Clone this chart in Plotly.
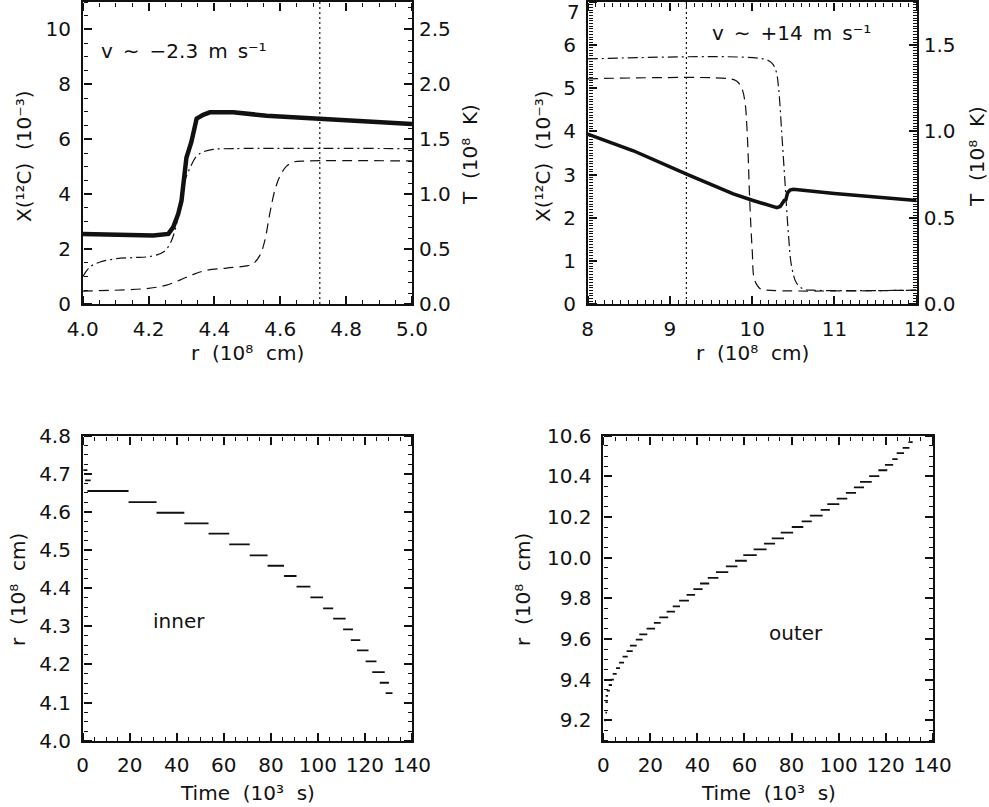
import plotly.graph_objects as go

W, H = 989, 807

# ---------------- top-left panel (inner boundary) ----------------
tl_r_solid = [4.0, 4.154, 4.214, 4.26, 4.275, 4.29, 4.30, 4.315, 4.33, 4.346,
              4.366, 4.386, 4.457, 4.558, 4.72, 4.861, 5.0]
tl_T_solid = [0.638, 0.633, 0.623, 0.638, 0.700, 0.820, 0.940, 1.333, 1.475, 1.688,
              1.723, 1.745, 1.745, 1.715, 1.688, 1.662, 1.638]
tl_r_dashdot = [4.0, 4.022, 4.053, 4.103, 4.154, 4.204, 4.245, 4.265, 4.28, 4.295,
                4.31, 4.326, 4.346, 4.366, 4.396, 4.457, 5.0]
tl_x_dashdot = [0.99, 1.35, 1.53, 1.65, 1.69, 1.73, 1.89, 2.19, 2.67, 3.52,
                4.48, 4.96, 5.39, 5.54, 5.63, 5.66, 5.66]
tl_r_dash = [4.0, 4.2, 4.255, 4.295, 4.336, 4.376, 4.437, 4.497, 4.518, 4.538,
             4.553, 4.568, 4.583, 4.599, 4.619, 4.639, 4.68, 5.0]
tl_x_dash = [0.47, 0.57, 0.69, 0.87, 1.08, 1.23, 1.31, 1.39, 1.47, 1.77,
             2.31, 3.28, 4.12, 4.66, 5.02, 5.17, 5.21, 5.21]
tl_vline_r = 4.72
tl_label = "v\u2002∼\u2002−2.3\u2002m\u2002s⁻¹"

# ---------------- top-right panel (outer boundary) ----------------
tr_r_solid = [8.0, 8.555, 9.216, 9.77, 10.01, 10.18, 10.30, 10.34, 10.37, 10.39,
              10.41, 10.43, 10.46, 10.5, 11.0, 12.0]
tr_T_solid = [0.985, 0.888, 0.750, 0.638, 0.600, 0.578, 0.558, 0.565, 0.590, 0.600,
              0.605, 0.645, 0.660, 0.665, 0.640, 0.600]
tr_r_dashdot = [8.0, 10.136, 10.237, 10.29, 10.32, 10.36, 10.40, 10.44, 10.48,
                10.54, 10.62, 10.74, 12.0]
tr_x_dashdot = [5.68, 5.68, 5.59, 5.40, 5.02, 3.94, 2.78, 1.63, 0.86,
                0.48, 0.35, 0.32, 0.32]
tr_r_dash = [8.0, 9.73, 9.81, 9.87, 9.91, 9.94, 9.97, 10.0, 10.03, 10.1, 10.18, 12.0]
tr_x_dash = [5.22, 5.22, 5.17, 5.02, 4.71, 3.94, 2.40, 1.25, 0.55, 0.35, 0.32, 0.32]
tr_vline_r = 9.2
tr_label = "v\u2002∼\u2002+14\u2002m\u2002s⁻¹"
tr_top_tick = "7"

# ---------------- bottom-left: inner boundary position vs time ----------------
inner_t_start = [0.3, 1.0, 2.0, 19.5, 31.4, 43.2, 53.5, 62.3, 71.0, 78.6, 85.6,
                 90.9, 96.8, 102.2, 106.5, 110.7, 114.0, 116.6, 120.3, 123.1, 126.3, 128.8]
inner_t_end = [2.0, 3.4, 19.5, 31.4, 43.2, 53.5, 62.3, 71.0, 78.6, 85.6, 90.9,
               96.8, 102.2, 106.5, 111.8, 114.9, 118.0, 121.5, 124.9, 128.4, 130.2, 131.7]
inner_r = [4.710, 4.683, 4.655, 4.626, 4.598, 4.570, 4.543, 4.515, 4.486, 4.459, 4.432,
           4.404, 4.376, 4.347, 4.320, 4.292, 4.264, 4.237, 4.208, 4.180, 4.152, 4.125]

# ---------------- bottom-right: outer boundary position vs time ----------------
outer_t_start = [0.5, 0.9, 0.9, 1.0, 1.4, 2.3, 3.1, 4.0, 5.4, 6.7, 8.2, 9.9, 11.3, 13.8,
                 15.3, 18.4, 21.5, 23.8, 26.9, 29.5, 32.2, 35.4, 38.3, 41.1, 44.4, 47.9,
                 52.1, 56.0, 59.5, 63.9, 68.3, 71.6, 75.4, 80.1, 84.3, 87.8, 92.4, 95.2,
                 99.2, 103.1, 106.5, 109.1, 113.0, 116.9, 119.7, 122.8, 124.7, 127.2, 129.7]
outer_t_end = [1.1, 1.6, 1.9, 2.0, 2.8, 3.7, 4.5, 5.7, 7.1, 8.8, 10.4, 12.5, 14.2, 16.7,
               18.7, 22.0, 24.4, 27.6, 30.5, 32.6, 36.4, 39.0, 42.2, 45.0, 48.9, 53.1,
               57.0, 61.0, 65.2, 69.4, 73.0, 76.8, 80.7, 85.0, 88.6, 93.2, 96.3, 100.3,
               103.7, 107.4, 110.8, 114.1, 117.3, 120.7, 123.2, 125.1, 127.8, 130.1, 131.5]
outer_r = [9.200, 9.238, 9.290, 9.320, 9.346, 9.374, 9.400, 9.429, 9.457, 9.484, 9.513,
           9.541, 9.568, 9.597, 9.623, 9.651, 9.679, 9.707, 9.735, 9.761, 9.789, 9.817,
           9.845, 9.873, 9.901, 9.929, 9.957, 9.985, 10.013, 10.041, 10.069, 10.095,
           10.123, 10.151, 10.179, 10.207, 10.235, 10.263, 10.291, 10.319, 10.346, 10.373,
           10.401, 10.430, 10.457, 10.485, 10.514, 10.540, 10.568]

INK = "#111111"
FONT = "DejaVu Sans"
FS = 20


def segs(t0, t1, r):
    xs, ys = [], []
    for a, b, v in zip(t0, t1, r):
        xs += [a, b, None]
        ys += [v, v, None]
    return xs, ys


def px_x(p):
    return min(1.0, max(0.0, p / W))


def px_y(p):
    return min(1.0, max(0.0, 1 - p / H))


fig = go.Figure()

# TL traces
fig.add_trace(go.Scatter(x=tl_r_dash, y=tl_x_dash, xaxis="x", yaxis="y", mode="lines",
                         line=dict(color=INK, width=1.2, dash="10px,6px"), line_shape="spline"))
fig.add_trace(go.Scatter(x=tl_r_dashdot, y=tl_x_dashdot, xaxis="x", yaxis="y", mode="lines",
                         line=dict(color=INK, width=1.2, dash="10px,4px,2px,4px"), line_shape="spline"))
fig.add_trace(go.Scatter(x=tl_r_solid, y=tl_T_solid, xaxis="x", yaxis="y2", mode="lines",
                         line=dict(color=INK, width=4.5)))
fig.add_trace(go.Scatter(x=[tl_vline_r, tl_vline_r], y=[0, 11], xaxis="x", yaxis="y", mode="lines",
                         line=dict(color=INK, width=1.2, dash="2px,3px")))

# TR traces
fig.add_trace(go.Scatter(x=tr_r_dash, y=tr_x_dash, xaxis="x2", yaxis="y3", mode="lines",
                         line=dict(color=INK, width=1.2, dash="10px,6px"), line_shape="spline"))
fig.add_trace(go.Scatter(x=tr_r_dashdot, y=tr_x_dashdot, xaxis="x2", yaxis="y3", mode="lines",
                         line=dict(color=INK, width=1.2, dash="10px,4px,2px,4px"), line_shape="spline"))
fig.add_trace(go.Scatter(x=tr_r_solid, y=tr_T_solid, xaxis="x2", yaxis="y4", mode="lines",
                         line=dict(color=INK, width=3.5)))
fig.add_trace(go.Scatter(x=[tr_vline_r, tr_vline_r], y=[0, 7], xaxis="x2", yaxis="y3", mode="lines",
                         line=dict(color=INK, width=1.2, dash="2px,3px")))

# bottom traces
ix, iy = segs(inner_t_start, inner_t_end, inner_r)
fig.add_trace(go.Scatter(x=ix, y=iy, xaxis="x3", yaxis="y5", mode="lines",
                         line=dict(color=INK, width=1.8)))
ox, oy = segs(outer_t_start, outer_t_end, outer_r)
fig.add_trace(go.Scatter(x=ox, y=oy, xaxis="x4", yaxis="y6", mode="lines",
                         line=dict(color=INK, width=1.8)))


def ax(rng, dtick, domain, anchor, side=None, overlaying=None, tick0=None, line=True):
    t0 = rng[0] if tick0 is None else tick0
    d = dict(range=rng, dtick=dtick, tick0=t0, tickmode="linear",
             domain=domain, anchor=anchor, automargin=False,
             showgrid=False, zeroline=False, showline=line, linecolor=INK, linewidth=1.5,
             mirror=True if line else False, ticks="", ticklabelstandoff=6,
             showticklabels=True,
             tickfont=dict(family=FONT, size=FS, color=INK))
    if side:
        d["side"] = side
    if overlaying:
        d["overlaying"] = overlaying
    return d


def tick_ax(rng, dtick, mdtick, over, side, pos, tick0=None):
    # tick-only axis placed on a frame edge, its outward ticks pointing into the panel
    t0 = rng[0] if tick0 is None else tick0
    return dict(range=rng, tickmode="linear", tick0=t0, dtick=dtick,
                overlaying=over, anchor="free", position=pos, side=side,
                ticks="outside", ticklen=8, tickwidth=1.5, tickcolor=INK,
                showticklabels=False, showline=False, showgrid=False, zeroline=False,
                automargin=False, fixedrange=True,
                minor=dict(dtick=mdtick, tick0=t0, ticks="outside", ticklen=4,
                           tickwidth=1, tickcolor=INK, showgrid=False))


xd_l = [px_x(82.7), px_x(412)]
xd_r = [px_x(587.7), px_x(916.7)]
xd_br = [px_x(603.3), px_x(932.7)]
yd_t = [px_y(304), px_y(2)]
yd_b = [px_y(740.7), px_y(435.7)]

# tick-only axes: (axis name, range, major, minor, overlaid axis, side, position, tick0, partner axis)
tick_axes = [
    ("xaxis5", [4.0, 5.0], 0.2, 0.05, "x", "top", yd_t[0], None, "y"),
    ("xaxis6", [4.0, 5.0], 0.2, 0.05, "x", "bottom", yd_t[1], None, "y"),
    ("yaxis7", [0, 11], 2, 0.5, "y", "right", xd_l[0], None, "x"),
    ("yaxis8", [0, 2.75], 0.5, 0.1, "y", "left", xd_l[1], None, "x"),
    ("xaxis7", [8, 12], 1, 0.1, "x2", "top", yd_t[0], None, "y3"),
    ("xaxis8", [8, 12], 1, 0.1, "x2", "bottom", yd_t[1], None, "y3"),
    ("yaxis9", [0, 7], 1, 0.0625, "y3", "right", xd_r[0], None, "x2"),
    ("yaxis10", [0, 1.75], 0.5, 0.015625, "y3", "left", xd_r[1], None, "x2"),
    ("xaxis9", [0, 140], 20, 5, "x3", "top", yd_b[0], None, "y5"),
    ("xaxis10", [0, 140], 20, 5, "x3", "bottom", yd_b[1], None, "y5"),
    ("yaxis11", [4.0, 4.8001], 0.1, 0.025, "y5", "right", xd_l[0], None, "x3"),
    ("yaxis12", [4.0, 4.8001], 0.1, 0.025, "y5", "left", xd_l[1], None, "x3"),
    ("xaxis11", [0, 140], 20, 5, "x4", "top", yd_b[0], None, "y6"),
    ("xaxis12", [0, 140], 20, 5, "x4", "bottom", yd_b[1], None, "y6"),
    ("yaxis13", [9.1, 10.6], 0.2, 0.05, "y6", "right", xd_br[0], 9.2, "x4"),
    ("yaxis14", [9.1, 10.6], 0.2, 0.05, "y6", "left", xd_br[1], 9.2, "x4"),
]

layout = dict(
    template="none",
    width=W, height=H, margin=dict(l=0, r=0, t=0, b=0, autoexpand=False),
    paper_bgcolor="white", plot_bgcolor="rgba(0,0,0,0)", showlegend=False,
    font=dict(family=FONT, size=FS, color=INK),
    xaxis=ax([4.0, 5.0], 0.2, xd_l, "y"),
    yaxis=ax([0, 11], 2, yd_t, "x"),
    yaxis2=ax([0, 2.75], 0.5, yd_t, "x", side="right", overlaying="y", line=False),
    xaxis2=ax([8, 12], 1, xd_r, "y3"),
    yaxis3=ax([0, 7], 1, yd_t, "x2"),
    yaxis4=ax([0, 1.75], 0.5, yd_t, "x2", side="right", overlaying="y3", line=False),
    xaxis3=ax([0, 140], 20, xd_l, "y5"),
    yaxis5=ax([4.0, 4.8001], 0.1, yd_b, "x3"),
    xaxis4=ax([0, 140], 20, xd_br, "y6"),
    yaxis6=ax([9.1, 10.6], 0.2, yd_b, "x4", tick0=9.2),
)
for name, rng, dt, mdt, over, side, pos, t0, partner in tick_axes:
    layout[name] = tick_ax(rng, dt, mdt, over, side, pos, t0)
    # an empty trace registers the tick axis so that it is drawn
    short = name.replace("axis", "")
    if name.startswith("x"):
        fig.add_trace(go.Scatter(x=[], y=[], xaxis=short, yaxis=partner, mode="lines",
                                 hoverinfo="skip", showlegend=False))
    else:
        fig.add_trace(go.Scatter(x=[], y=[], xaxis=partner, yaxis=short, mode="lines",
                                 hoverinfo="skip", showlegend=False))

for k in ["xaxis", "yaxis2", "yaxis4", "yaxis5", "yaxis6"]:
    layout[k]["tickformat"] = ".1f"
fig.update_layout(**layout)


def ann(text, x, y, angle=0, xref="paper", yref="paper", xanchor="center"):
    return dict(text=text, x=x, y=y, xref=xref, yref=yref, showarrow=False,
                textangle=angle, xanchor=xanchor, yanchor="middle",
                font=dict(family=FONT, size=FS, color=INK))


xt_r = "r  (10⁸  cm)"
xt_t = "Time  (10³  s)"
yt_c = "X(¹²C)  (10⁻³)"
yt_T = "T  (10⁸  K)"

annotations = [
    ann(xt_r, px_x(247), px_y(353)),
    ann(xt_r, px_x(752), px_y(353)),
    ann(xt_t, px_x(247), px_y(793)),
    ann(xt_t, px_x(768), px_y(793)),
    ann(yt_c, px_x(24), px_y(156), angle=-90),
    ann(yt_T, px_x(470), px_y(155), angle=-90),
    ann(yt_c, px_x(543), px_y(156), angle=-90),
    ann(yt_T, px_x(977), px_y(157), angle=-90),
    ann(xt_r, px_x(18), px_y(590), angle=-90),
    ann(xt_r, px_x(523), px_y(590), angle=-90),
    ann(tr_top_tick, px_x(582), px_y(12), xanchor="right"),
    ann(tl_label, 4.05, 9.2, xref="x", yref="y", xanchor="left"),
    ann(tr_label, 9.49, 6.28, xref="x2", yref="y3", xanchor="left"),
    ann("inner", 41, 4.315, xref="x3", yref="y5"),
    ann("outer", 81.7, 9.63, xref="x4", yref="y6"),
]
fig.update_layout(annotations=annotations)

fig.write_html("out.html", config={"displayModeBar": False},
               post_script="document.body.style.margin='0';document.body.style.overflow='hidden';")
